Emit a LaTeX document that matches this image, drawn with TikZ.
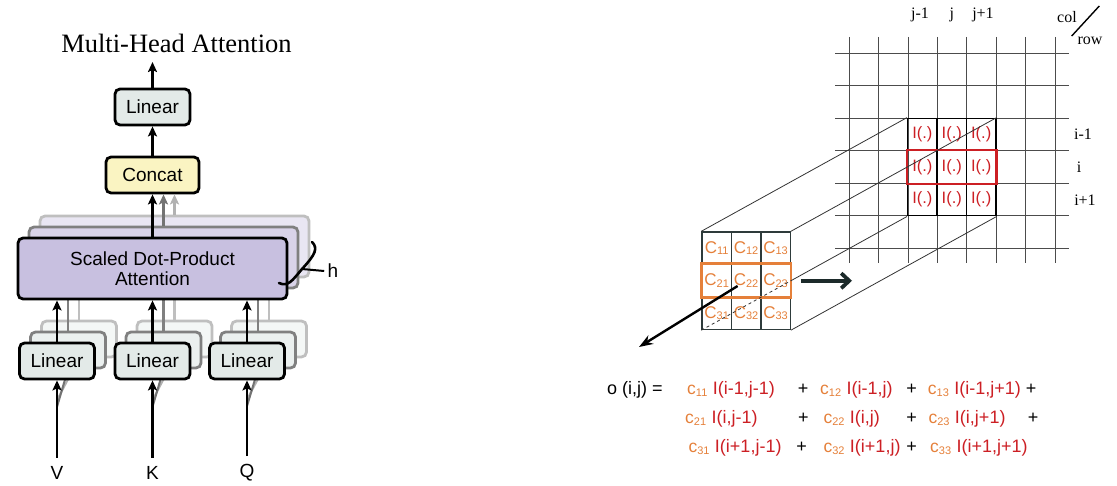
\documentclass[tikz,border=0pt]{standalone}
\usepackage{fontspec}
\setmainfont{Liberation Serif}
\setsansfont{Liberation Sans}
\usepackage{tikz}
\usetikzlibrary{calc}
\usetikzlibrary{arrows.meta}
\definecolor{lingray}{HTML}{E3EAE8}
\definecolor{concatyel}{HTML}{FAF4C2}
\definecolor{attnlav}{HTML}{C8C0E0}
\definecolor{cred}{HTML}{CC1F24}
\definecolor{corange}{HTML}{E5803A}
\definecolor{facegray}{HTML}{2E3B3B}
\definecolor{arrowslate}{HTML}{1C2A2A}
\newcommand{\kcoef}[1]{{\color{corange}\fontsize{17.5}{17}\selectfont c\raisebox{-1.5pt}{\fontsize{11}{11}\selectfont #1}}}
\newcommand{\kface}[1]{{\color{corange}\fontsize{17}{16}\selectfont C\raisebox{-1.5pt}{\fontsize{11}{11}\selectfont #1}}}
\newcommand{\ival}[1]{\hspace{5.5pt}{\color{cred}\fontsize{18}{20}\selectfont I(#1)}}

\begin{document}
\begin{tikzpicture}[x=1pt, y=-1pt, font=\sffamily,
  box/.style={draw, line width=2.8pt, rounded corners=5pt, inner sep=0pt, font=\sffamily\fontsize{19}{21}\selectfont},
  linbox/.style={box, fill=lingray, minimum width=75pt, minimum height=36pt},
  arr/.style={line width=2.8pt, -{Stealth[length=10pt,width=9pt,inset=2pt]}},
  ghostb/.style={draw=black!50, fill=#1!70!white},
  ghostc/.style={draw=black!25, fill=#1!40!white},
  icell/.style={draw=black, line width=1.4pt, minimum width=29.4pt, minimum height=32.5pt, inner sep=0pt, text=cred, font=\sffamily\fontsize{16.5}{16}\selectfont},
  fcell/.style={draw=facegray, line width=1.4pt, fill=white, minimum width=29.4pt, minimum height=32.5pt, inner sep=0pt},
  gridline/.style={draw=black!70, line width=1pt},
  edge/.style={draw=black!80, line width=0.8pt},
  lab/.style={font=\rmfamily\fontsize{16}{16}\selectfont, inner sep=0pt},
  term/.style={anchor=base west, inner sep=0pt, font=\sffamily\fontsize{18}{20}\selectfont},
  plus/.style={anchor=base, inner sep=0pt, font=\sffamily\fontsize{18}{20}\selectfont}]
\useasboundingbox (0,0) rectangle (1117,486);

% -- multi-head attention --
\node[font=\rmfamily\fontsize{26.5}{30}\selectfont] (title) at (176.5,43) {Multi-Head Attention};
\coordinate (outtip) at (152.5,62);
\node[linbox] (toplin) at (152.5,107) {Linear};
\node[box, fill=concatyel, minimum width=93pt, minimum height=36pt] (concat) at (152.5,175) {Concat};
\node (vin) at (57,473) {\fontsize{19}{21}\selectfont V};
\node (kin) at (152.5,473) {\fontsize{19}{21}\selectfont K};
\node (qin) at (247,473) {\fontsize{19}{21}\selectfont Q};
% -- heads: third copy --
\node[box, ghostc=attnlav, minimum width=269pt, minimum height=61pt] (sdpa3) at (174.5,246.5) {};
\node[linbox, ghostc=lingray] (lin1c) at (79,339) {};
\node[linbox, ghostc=lingray] (lin2c) at (174.5,339) {};
\node[linbox, ghostc=lingray] (lin3c) at (269,339) {};
\draw[line width=2.2pt, black!25] (lin1c) -- (lin1c |- sdpa3.south);
\draw[line width=2.2pt, black!25] (lin2c) -- (lin2c |- sdpa3.south);
\draw[line width=2.2pt, black!25] (lin3c) -- (lin3c |- sdpa3.south);
\draw[arr, black!30] (sdpa3) -- (sdpa3 |- concat.south);
\draw[line width=2pt, black!30] ($(vin.north)!0.6!(lin1c.south -| vin)$) -- (lin1c.south);
\draw[line width=2pt, black!30] ($(kin.north)!0.6!(lin2c.south -| kin)$) -- (lin2c.south);
\draw[line width=2pt, black!30] ($(qin.north)!0.6!(lin3c.south -| qin)$) -- (lin3c.south);
% -- heads: second copy --
\node[box, ghostb=attnlav, minimum width=269pt, minimum height=61pt] (sdpa2) at (163.5,257.5) {};
\node[linbox, ghostb=lingray] (lin1b) at (68,350) {};
\node[linbox, ghostb=lingray] (lin2b) at (163.5,350) {};
\node[linbox, ghostb=lingray] (lin3b) at (258,350) {};
\draw[line width=2.2pt, black!50] (lin1b) -- (lin1b |- sdpa2.south);
\draw[line width=2.2pt, black!50] (lin2b) -- (lin2b |- sdpa2.south);
\draw[line width=2.2pt, black!50] (lin3b) -- (lin3b |- sdpa2.south);
\draw[arr, black!55] (sdpa2) -- (sdpa2 |- concat.south);
\draw[line width=2pt, black!55] ($(vin.north)!0.6!(lin1b.south -| vin)$) -- (lin1b.south);
\draw[line width=2pt, black!55] ($(kin.north)!0.6!(lin2b.south -| kin)$) -- (lin2b.south);
\draw[line width=2pt, black!55] ($(qin.north)!0.6!(lin3b.south -| qin)$) -- (lin3b.south);
% -- heads: front copy --
\node[box, fill=attnlav, minimum width=269pt, minimum height=61pt, align=center] (sdpa) at (152.5,268.5) {Scaled Dot-Product\\[-1pt]Attention};
\node[linbox] (lin1) at (57,361) {Linear};
\node[linbox] (lin2) at (152.5,361) {Linear};
\node[linbox] (lin3) at (247,361) {Linear};
\draw[arr] (lin1) -- (lin1 |- sdpa.south);
\draw[arr] (lin2) -- (lin2 |- sdpa.south);
\draw[arr] (lin3) -- (lin3 |- sdpa.south);
\draw[arr, shorten <=5pt] (vin) -- (lin1);
\draw[arr, shorten <=5pt] (kin) -- (lin2);
\draw[arr, shorten <=5pt] (qin) -- (lin3);
\draw[arr] (sdpa) -- (concat);
\draw[arr] (concat) -- (toplin);
\draw[arr] (toplin) -- (outtip);
% -- h brace --
\node (hlab) at (333,271) {\fontsize{19}{21}\selectfont h};
\coordinate (bracemid) at (302,269);
\draw[line width=2.6pt, line cap=round] (312,242) .. controls (318,248) and (316,254) .. (bracemid) .. controls (292,281) and (288,287) .. (279,283);
\draw[line width=2pt] (hlab.west) -- (bracemid);

% -- image grid --
\draw[gridline] (849.3,37) -- (849.3,263);
\draw[gridline] (878.7,37) -- (878.7,263);
\draw[gridline] (908.1,37) -- (908.1,263);
\draw[gridline] (937.5,37) -- (937.5,263);
\draw[gridline] (966.9,37) -- (966.9,263);
\draw[gridline] (996.3,37) -- (996.3,263);
\draw[gridline] (1025.7,37) -- (1025.7,263);
\draw[gridline] (1055.1,37) -- (1055.1,263);
\draw[gridline] (835,53.3) -- (1069,53.3);
\draw[gridline] (835,85.8) -- (1069,85.8);
\draw[gridline] (835,118.3) -- (1069,118.3);
\draw[gridline] (835,150.8) -- (1069,150.8);
\draw[gridline] (835,183.3) -- (1069,183.3);
\draw[gridline] (835,215.8) -- (1069,215.8);
\draw[gridline] (835,248.3) -- (1069,248.3);
% -- neighbourhood I(.) --
\node[icell] (i11) at (922.4,134.55) {I(.)};
\node[icell] (i12) at (951.8,134.55) {I(.)};
\node[icell] (i13) at (981.2,134.55) {I(.)};
\node[icell] (i21) at (922.4,167.05) {I(.)};
\node[icell] (i22) at (951.8,167.05) {I(.)};
\node[icell] (i23) at (981.2,167.05) {I(.)};
\node[icell] (i31) at (922.4,199.55) {I(.)};
\node[icell] (i32) at (951.8,199.55) {I(.)};
\node[icell] (i33) at (981.2,199.55) {I(.)};
\draw[cred, line width=2.8pt] (i21.north west) rectangle (i23.south east);
% -- labels --
\node[lab] (cj1) at (920,15) {j-1};
\node[lab] (cj) at (951.8,15) {j};
\node[lab] (cj3) at (983,15) {j+1};
\node[lab] (ri1) at (1083,134) {i-1};
\node[lab] (ri) at (1079,167) {i};
\node[lab] (ri3) at (1085,200) {i+1};
\node[lab] (colname) at (1067,17) {col};
\node[lab] (rowname) at (1090,41) {row};
\draw[line width=1.4pt] (1071.7,36) -- (1099.3,6);
% -- kernel face --
\node[fcell] (c11) at (716.7,248.25) {\kface{11}};
\node[fcell] (c12) at (746.1,248.25) {\kface{12}};
\node[fcell] (c13) at (775.5,248.25) {\kface{13}};
\node[fcell] (c21) at (716.7,280.75) {\kface{21}};
\node[fcell] (c22) at (746.1,280.75) {\kface{22}};
\node[fcell] (c23) at (775.5,280.75) {\kface{23}};
\node[fcell] (c31) at (716.7,313.25) {\kface{31}};
\node[fcell] (c32) at (746.1,313.25) {\kface{32}};
\node[fcell] (c33) at (775.5,313.25) {\kface{33}};
\draw[corange, line width=2.8pt] (c21.north west) rectangle (c23.south east);
% -- prism edges --
\draw[edge] (c11.north west) -- (i11.north west);
\draw[edge] (c13.north east) -- (i13.north east);
\draw[edge] (c33.south east) -- (i33.south east);
\draw[edge, dashed] (c31.south west) -- (c23.east);
\draw[edge] (c23.east) -- (i31.south west);
% -- arrows --
\coordinate (fwdtip) at (852,280.75);
\coordinate (outdir) at (639,347);
\draw[arrowslate, line width=3.8pt, shorten <=10pt, -{Straight Barb[length=8pt,width=15pt]}] (c23.east) -- (fwdtip);
\draw[line width=2.4pt, shorten <=10pt, -{Stealth[length=14pt,width=10pt]}] (c22.center) -- (outdir);

% -- formula --
\node[term] (lhs) at (607,395) {o (i,j) =};
\node[term] (t11) at (687,395) {\kcoef{11}\ival{i-1,j-1}};
\node[plus] (p11) at (803,395) {+};
\node[term] (t12) at (820,395) {\kcoef{12}\ival{i-1,j}};
\node[plus] (p12) at (911.7,395) {+};
\node[term] (t13) at (927.7,395) {\kcoef{13}\ival{i-1,j+1}};
\node[plus] (p13) at (1031,395) {+};
\node[term] (t21) at (685,424) {\kcoef{21}\ival{i,j-1}};
\node[plus] (p21) at (803.3,424) {+};
\node[term] (t22) at (823.3,424) {\kcoef{22}\ival{i,j}};
\node[plus] (p22) at (911.7,424) {+};
\node[term] (t23) at (928.3,424) {\kcoef{23}\ival{i,j+1}};
\node[plus] (p23) at (1033,424) {+};
\node[term] (t31) at (688.3,452.7) {\kcoef{31}\ival{i+1,j-1}};
\node[plus] (p31) at (801.7,452.7) {+};
\node[term] (t32) at (823.3,452.7) {\kcoef{32}\ival{i+1,j}};
\node[plus] (p32) at (911.7,452.7) {+};
\node[term] (t33) at (930,452.7) {\kcoef{33}\ival{i+1,j+1}};
\end{tikzpicture}
\end{document}
